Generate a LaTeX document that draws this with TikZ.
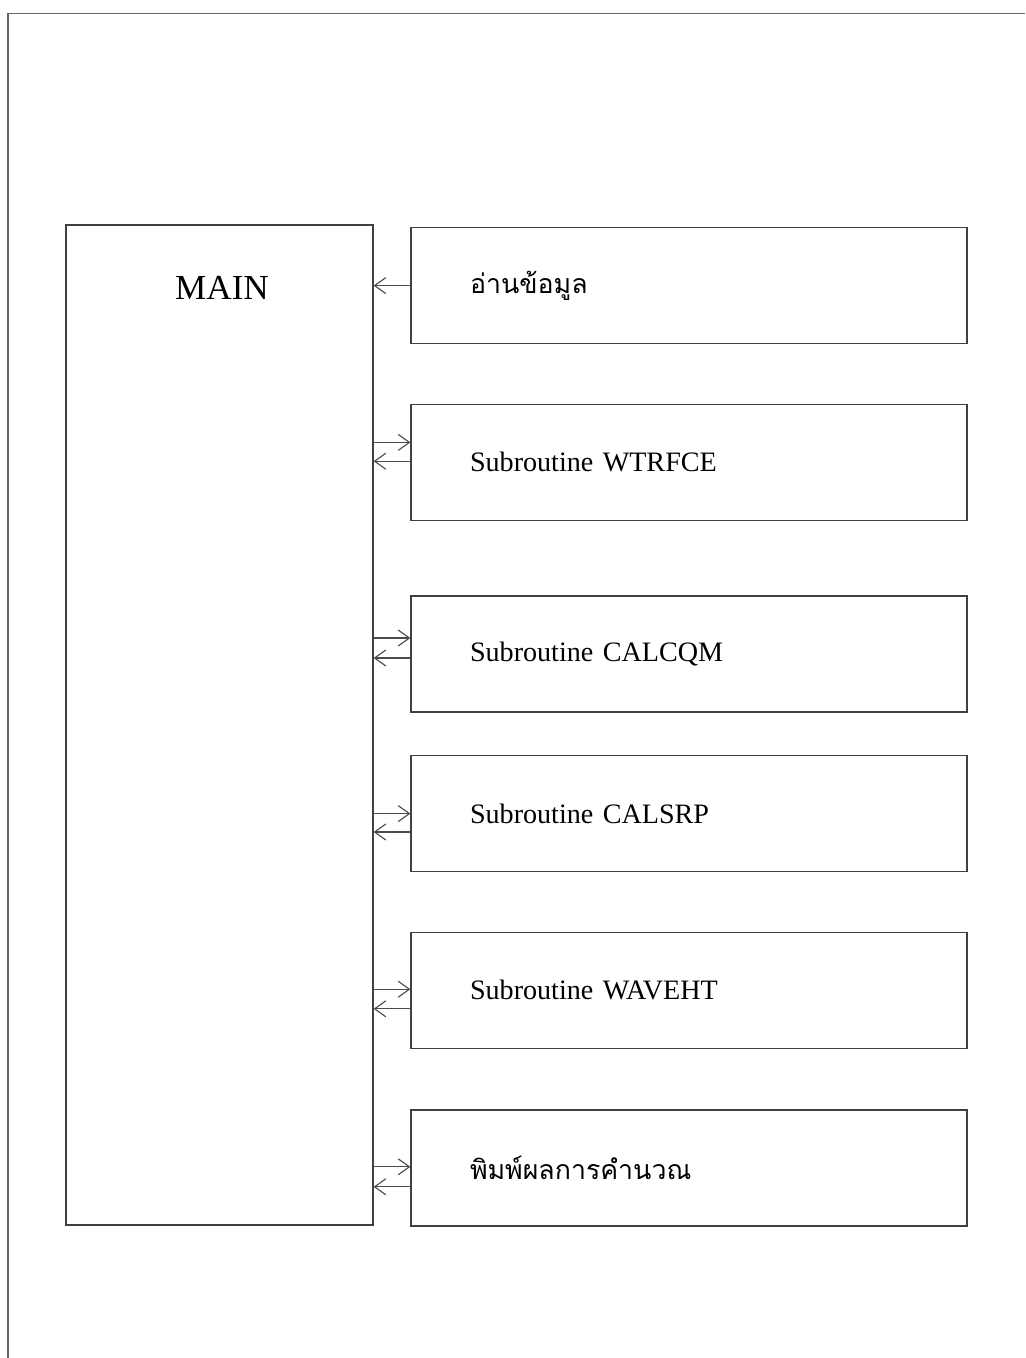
\documentclass[tikz,border=0pt]{standalone}
\usepackage{fontspec}
\setmainfont{Liberation Serif}
\newfontfamily\thaifont[Script=Thai]{Loma}
\usetikzlibrary{positioning,arrows.meta}

\begin{document}
\begin{tikzpicture}[subbox/.style={draw=black!75, line width=0.9pt, text width=10.95cm, inner xsep=1.475cm, minimum height=2.9cm, align=left, font=\fontsize{20}{24}\selectfont},
    link/.style={draw=black!70, line width=0.8pt, -{Straight Barb[length=2.8mm,width=4mm]}}]
    \useasboundingbox (0,0) rectangle (25.625,-33.95);
    % scanned page border
    \draw[black!60, line width=0.8pt] (0.2,-33.95) -- (0.2,-0.33) -- (25.625,-0.33);
    \node[draw=black!75, line width=0.9pt, minimum width=7.675cm, minimum height=25cm] (main) at (5.4875,-18.125) {};
    \node[font=\fontsize{25}{30}\selectfont] (maintext) at (5.55,-7.2) {MAIN};
    \node[subbox] (read) at (17.225,-7.14) {\thaifont\fontsize{19}{23}\selectfont อ่านข้อมูล};
    \node[subbox] (wtrfce) at (17.225,-11.56) {\raisebox{-0.2cm}{Subroutine WTRFCE}};
    \node[subbox] (calcqm) at (17.225,-16.35) {Subroutine CALCQM};
    \node[subbox] (calsrp) at (17.225,-20.34) {\raisebox{-0.2cm}{Subroutine CALSRP}};
    \node[subbox] (waveht) at (17.225,-24.76) {\raisebox{-0.18cm}{Subroutine WAVEHT}};
    \node[subbox] (output) at (17.225,-29.2) {\thaifont\fontsize{19}{23}\selectfont พิมพ์ผลการคำนวณ};
    \draw[link] (read.west) -- (read.west -| main.east);
    \draw[link] ([yshift=0.5cm]wtrfce.west -| main.east) -- ([yshift=0.5cm]wtrfce.west);
    \draw[link] ([yshift=0.03cm]wtrfce.west) -- ([yshift=0.03cm]wtrfce.west -| main.east);
    \draw[link] ([yshift=0.4cm]calcqm.west -| main.east) -- ([yshift=0.4cm]calcqm.west);
    \draw[link] ([yshift=-0.1cm]calcqm.west) -- ([yshift=-0.1cm]calcqm.west -| main.east);
    \draw[link] ([yshift=0cm]calsrp.west -| main.east) -- ([yshift=0cm]calsrp.west);
    \draw[link] ([yshift=-0.46cm]calsrp.west) -- ([yshift=-0.46cm]calsrp.west -| main.east);
    \draw[link] ([yshift=0.03cm]waveht.west -| main.east) -- ([yshift=0.03cm]waveht.west);
    \draw[link] ([yshift=-0.46cm]waveht.west) -- ([yshift=-0.46cm]waveht.west -| main.east);
    \draw[link] ([yshift=0.03cm]output.west -| main.east) -- ([yshift=0.03cm]output.west);
    \draw[link] ([yshift=-0.47cm]output.west) -- ([yshift=-0.47cm]output.west -| main.east);
  \end{tikzpicture}
\end{document}
